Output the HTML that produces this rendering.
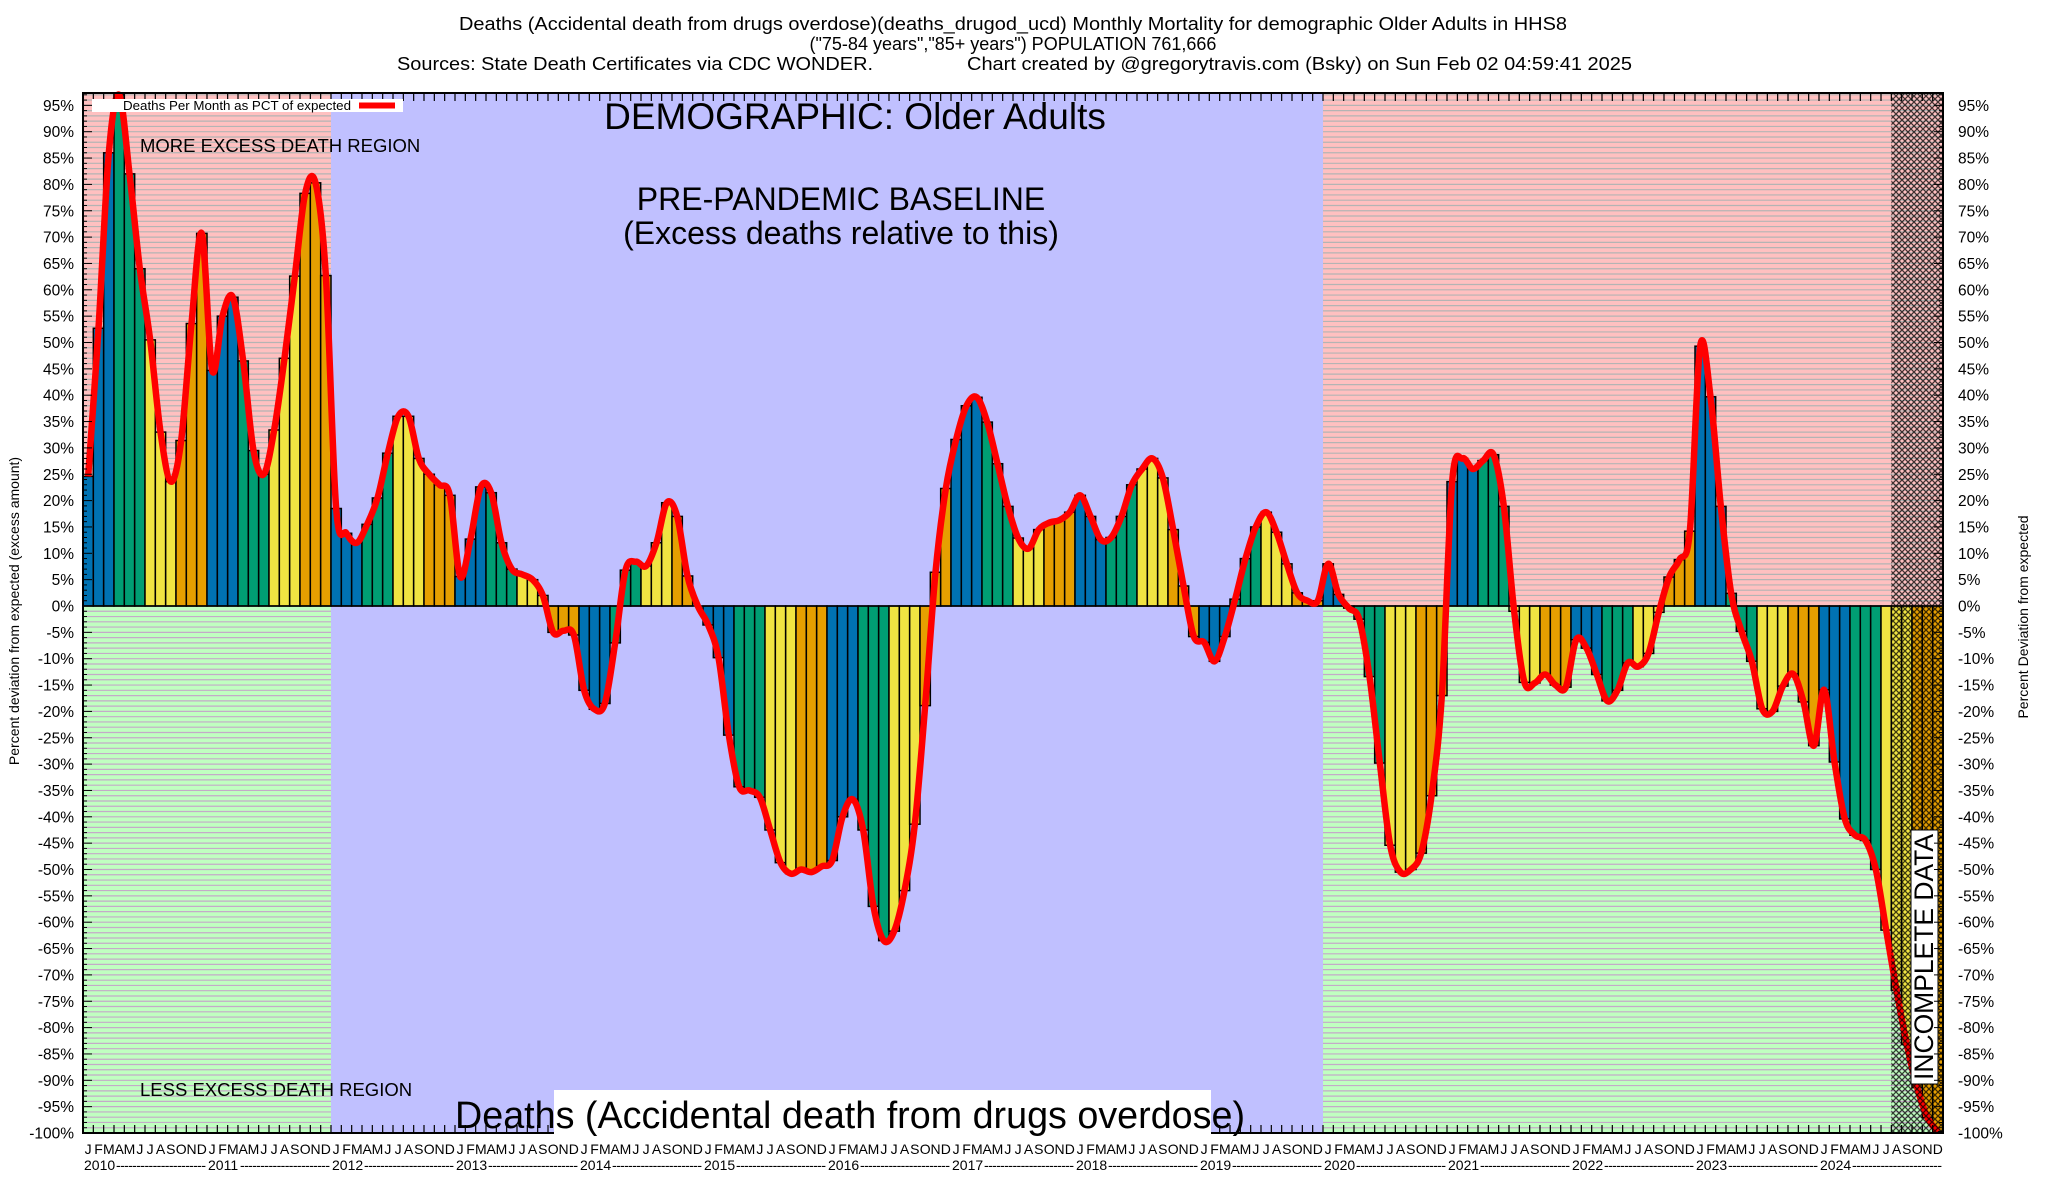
<!DOCTYPE html>
<html><head><meta charset="utf-8"><style>
html,body{margin:0;padding:0;background:#fff;}
svg{display:block;font-family:"Liberation Sans",sans-serif;}
</style></head><body>
<svg id="chart" width="2048" height="1200" viewBox="0 0 2048 1200" xmlns="http://www.w3.org/2000/svg">
<defs>
<pattern id="hatch" width="6" height="6" patternUnits="userSpaceOnUse">
<path d="M0,0 L6,6 M6,0 L0,6" stroke="#000" stroke-width="1.3" opacity="0.75"/>
</pattern>
</defs>
<g id="bg"></g>
<g id="bars"></g>
<g id="overlay"></g>
<g id="axes"></g>
<g id="texts">
<text x="1013" y="30" font-size="18" text-anchor="middle" textLength="1108" lengthAdjust="spacingAndGlyphs">Deaths (Accidental death from drugs overdose)(deaths_drugod_ucd) Monthly Mortality for demographic Older Adults in HHS8</text>
<text x="1013" y="50" font-size="18" text-anchor="middle">("75-84 years","85+ years") POPULATION 761,666</text>
<text x="397" y="70" font-size="18" textLength="476" lengthAdjust="spacingAndGlyphs">Sources: State Death Certificates via CDC WONDER.</text>
<text x="967" y="70" font-size="18" textLength="665" lengthAdjust="spacingAndGlyphs">Chart created by @gregorytravis.com (Bsky) on Sun Feb 02 04:59:41 2025</text>
<text x="855" y="129" font-size="37" text-anchor="middle">DEMOGRAPHIC: Older Adults</text>
<text x="841" y="210" font-size="32" text-anchor="middle">PRE-PANDEMIC BASELINE</text>
<text x="841" y="244" font-size="32" text-anchor="middle">(Excess deaths relative to this)</text>
<text x="140" y="152" font-size="18.5">MORE EXCESS DEATH REGION</text>
<text x="140" y="1096" font-size="18.5">LESS EXCESS DEATH REGION</text>
<rect x="554" y="1090" width="657" height="53" fill="#fff"/>
<text x="455" y="1128" font-size="38" textLength="790" lengthAdjust="spacingAndGlyphs">Deaths (Accidental death from drugs overdose)</text>
<g>
<rect x="92" y="99" width="311" height="13" fill="#fff"/>
<text x="123" y="110" font-size="12.5" textLength="228" lengthAdjust="spacingAndGlyphs">Deaths Per Month as PCT of expected</text>
<line x1="359" y1="105.5" x2="395" y2="105.5" stroke="#f00" stroke-width="6"/>
</g>
<text transform="translate(19,611) rotate(-90)" font-size="14" text-anchor="middle">Percent deviation from expected (excess amount)</text>
<text transform="translate(2028,617) rotate(-90)" font-size="14" text-anchor="middle">Percent Deviation from expected</text>
</g>
</svg>
<script>
const categoriesYears = [2010,2011,2012,2013,2014,2015,2016,2017,2018,2019,2020,2021,2022,2023,2024];
const monthLetters = ['J','F','M','A','M','J','J','A','S','O','N','D'];
const values2010 = [24.6,52.7,86,97,82,64,50.5,33,23.6,31.4,53.6,70.7];
const values2011 = [44.7,55,58.6,46.5,29.5,25,33.4,47,62.6,78.3,80.3,62.7];
const values2012 = [18.5,13.8,12,15.5,20.5,29,36,36,28,25,23,21];
const values2013 = [5.6,12.7,22.6,21.5,12,7,6,5,2,-5,-4.7,-5.5];
const values2014 = [-16,-19.6,-18.5,-7,6.8,8.4,7.6,12,19.6,17,5.7,0];
const values2015 = [-3.6,-9.8,-24.5,-34.3,-35,-36.3,-42.5,-48.7,-50.8,-50,-50.5,-49.4];
const values2016 = [-48.3,-40,-36.7,-42.5,-57,-63.5,-61.7,-54,-41.4,-18.9,6.4,22.3];
const values2017 = [31.6,38,39.6,34.9,27,18.9,12.9,10.9,14.5,15.8,16.3,17.8];
const values2018 = [21,17,12.6,13,17,23,26,28,24.3,14.5,3.8,-5.8];
const values2019 = [-6.9,-10.5,-5.8,1.3,9,15,17.8,14,8,2.5,1,1];
const values2020 = [8,2.2,-0.4,-2.5,-13.4,-29.8,-45.4,-50.5,-50,-46.9,-36,-17];
const values2021 = [23.6,28,26,27.6,28.7,18.9,-1,-14.5,-14.6,-13,-15,-15.4];
const values2022 = [-6.4,-8,-13,-18,-16,-10.8,-11.5,-9,-1.2,5.5,8.8,14.2];
const values2023 = [49.3,39.7,18.9,2.4,-4.8,-10.5,-19.5,-20,-15.2,-12.9,-18.2,-26.5];
const values2024 = [-15.9,-29.6,-40.4,-43.5,-44.5,-50,-61.5,-72.9,-83.2,-91.4,-97.1,-99.7];
const yTicks = [95,90,85,80,75,70,65,60,55,50,45,40,35,30,25,20,15,10,5,0,-5,-10,-15,-20,-25,-30,-35,-40,-45,-50,-55,-60,-65,-70,-75,-80,-85,-90,-95,-100];
const incompleteMonths = 5;
const baselineStartYear = 2012, baselineEndYear = 2020;

const values = [].concat(values2010,values2011,values2012,values2013,values2014,values2015,values2016,values2017,values2018,values2019,values2020,values2021,values2022,values2023,values2024);
const NS = 'http://www.w3.org/2000/svg';
const L = 83, R = 1943, T = 93, B = 1133;
const N = values.length;
const slot = (R - L) / N;
function xScale(i){ return L + slot * i; }
function yScale(v){ return 606 - 5.27 * v; }
function mk(tag, attrs, parent){ const e = document.createElementNS(NS, tag); for (const k in attrs) e.setAttribute(k, attrs[k]); parent.appendChild(e); return e; }
const bg = document.getElementById('bg'), barsG = document.getElementById('bars'), ov = document.getElementById('overlay'), ax = document.getElementById('axes');
const zeroY = yScale(0);
const bStart = xScale((baselineStartYear - categoriesYears[0]) * 12);
const bEnd = xScale((baselineEndYear - categoriesYears[0]) * 12);

[[L, bStart],[bEnd, R]].forEach(function(seg){
  let r = mk('rect', {x: seg[0], y: T, width: seg[1]-seg[0], height: zeroY-T, fill:'#ffc0c0'}, bg);
  
  
  r = mk('rect', {x: seg[0], y: zeroY, width: seg[1]-seg[0], height: B-zeroY, fill:'#c0ffc0'}, bg);
  
  
  for (let p = -100; p <= 97; p++) {
    const gy = yScale(p);
    const ln = mk('line', {x1: seg[0], x2: seg[1], y1: gy, y2: gy, stroke: p >= 0 ? '#b4b4b4' : '#c4aac8', 'stroke-width': 1.2}, bg);
    
    
  }
});
let br = mk('rect', {x: bStart, y: T, width: bEnd-bStart, height: B-T, fill:'#c0c0ff'}, bg);



const colors = ['#0072b2','#009e73','#f0e442','#e69f00'];
values.forEach(function(v, i){
  const y0 = yScale(v);
  const b = mk('rect', {x: xScale(i), y: Math.min(y0, zeroY), width: slot, height: Math.abs(zeroY - y0), fill: colors[Math.floor((i % 12) / 3)], stroke:'#000', 'stroke-width': 1.5}, barsG);
  
  
});
let zl = mk('line', {x1: L, x2: R, y1: zeroY, y2: zeroY, stroke:'#000', 'stroke-width': 1.5}, barsG);



const pts = values.map(function(v, i){ return [xScale(i) + slot/2, yScale(v)]; });
let d = 'M' + pts[0][0] + ',' + pts[0][1];
for (let i = 0; i < pts.length - 1; i++) {
  const p0 = pts[Math.max(0, i-1)], p1 = pts[i], p2 = pts[i+1], p3 = pts[Math.min(pts.length-1, i+2)];
  const c1 = [p1[0] + (p2[0]-p0[0])/6, p1[1] + (p2[1]-p0[1])/6];
  const c2 = [p2[0] - (p3[0]-p1[0])/6, p2[1] - (p3[1]-p1[1])/6];
  d += ' C' + c1[0] + ',' + c1[1] + ' ' + c2[0] + ',' + c2[1] + ' ' + p2[0] + ',' + p2[1];
}
let line = mk('path', {d: d, fill:'none', stroke:'#ff0000', 'stroke-width': 6.5, 'stroke-linejoin':'round'}, ov);



const hx = xScale(N - incompleteMonths);
let h = mk('rect', {x: hx, y: T, width: R - hx, height: B - T, fill: 'url(#hatch)'}, ov);


let ib = mk('rect', {x: 1911, y: 830, width: 27, height: 254, fill:'#fff', stroke:'#000', 'stroke-width': 1}, ov);


let it = mk('text', {transform: 'translate(1933,957) rotate(-90)', 'font-size': 27, 'text-anchor': 'middle', textLength: 246, lengthAdjust: 'spacingAndGlyphs'}, ov);
it.textContent = 'INCOMPLETE DATA';



let fr = mk('rect', {x: L, y: T, width: R-L, height: B-T, fill:'none', stroke:'#000', 'stroke-width': 2}, ax);


for (let i = 0; i <= N; i++) {
  const tx = xScale(i);
  const t1 = mk('line', {x1: tx, x2: tx, y1: T, y2: T+8, stroke:'#000', 'stroke-width': 1.2}, ax);
  
  
  const t2 = mk('line', {x1: tx, x2: tx, y1: B, y2: B-8, stroke:'#000', 'stroke-width': 1.2}, ax);
  
  
}
for (let p = -100; p <= 97; p++) {
  const ty = yScale(p);
  const len = p % 5 === 0 ? 9 : 4;
  const a = mk('line', {x1: L, x2: L+len, y1: ty, y2: ty, stroke:'#000', 'stroke-width': 1}, ax);
  
  
  const b = mk('line', {x1: R, x2: R-len, y1: ty, y2: ty, stroke:'#000', 'stroke-width': 1}, ax);
  
  
}
yTicks.forEach(function(v){
  const ty = yScale(v) + 5.5;
  const a = mk('text', {x: 74, y: ty, 'font-size': 15.5, 'text-anchor':'end'}, ax);
  a.textContent = v + '%';
  
  
  const b = mk('text', {x: 1958, y: ty, 'font-size': 15.5}, ax);
  b.textContent = v + '%';
  
  
});
for (let i = 0; i < N; i++) {
  const m = mk('text', {x: xScale(i) + slot/2, y: 1154, 'font-size': 14, 'text-anchor':'middle'}, ax);
  m.textContent = monthLetters[i % 12];
  
  
}
categoriesYears.forEach(function(yr, k){
  const x0 = xScale(k*12);
  const yt = mk('text', {x: x0 + 1, y: 1170, 'font-size': 14}, ax);
  yt.textContent = String(yr);
  
  
  const ds = mk('text', {x: x0 + 33, y: 1170, 'font-size': 14, textLength: slot*12 - 34, lengthAdjust: 'spacing'}, ax);
  ds.textContent = '----------------------';
  
  
});
</script>
</body></html>
